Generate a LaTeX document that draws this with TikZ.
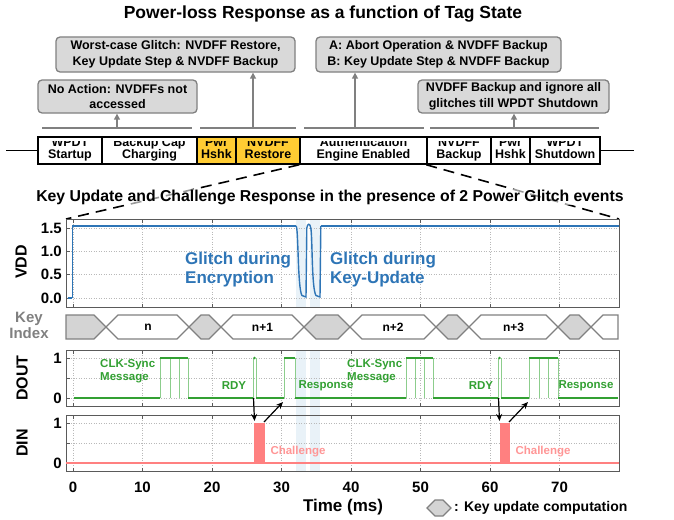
\documentclass[tikz,border=0pt]{standalone}
\usepackage{fontspec}
\setmainfont{Liberation Sans}
\usetikzlibrary{arrows.meta}
\definecolor{boxgray}{RGB}{217,217,217}
\definecolor{edgegray}{RGB}{128,128,128}
\definecolor{gold}{RGB}{255,204,51}
\definecolor{vblue}{RGB}{46,117,182}
\definecolor{bandc}{RGB}{233,242,248}
\definecolor{dgreen}{RGB}{50,160,50}
\definecolor{lgreen}{RGB}{140,205,140}
\definecolor{salmon}{RGB}{255,128,128}
\definecolor{salmontxt}{RGB}{255,150,150}
\definecolor{framec}{RGB}{90,90,90}
\definecolor{gridc}{RGB}{185,185,185}
\definecolor{hexgray}{RGB}{212,212,212}
\newcommand\fsz[2]{\fontsize{#1}{#2}\selectfont}
\newcommand\stext[5]{%
  \begin{scope}\clip (#2,141) rectangle (#3,164);
  \node[stl, anchor=base] at (#1,146.7) {#4};\end{scope}
  \node[stl, anchor=base] at (#1,158) {#5};}
\newcommand\hexseg[3]{\draw[#3] (#1,327) -- ({#1+12},315) -- ({#2-12},315) -- (#2,327) -- ({#2-12},339) -- ({#1+12},339) -- cycle;}
\begin{document}
\begin{tikzpicture}[x=1pt,y=-1pt]
\tikzset{
  note/.style={draw=edgegray, fill=boxgray, rounded corners=4pt, line width=1.3pt, align=center, font=\bfseries\fsz{12.5}{15.5}, inner sep=0pt},
  brk/.style={draw=edgegray, line width=1.5pt},
  arrg/.style={draw=edgegray, line width=1.4pt, -{Triangle[width=6pt,length=6pt]}},
  stbox/.style={draw=black, line width=1.5pt, fill=white, inner sep=0pt, minimum height=27},
  stl/.style={font=\bfseries\fsz{12.5}{12}, inner sep=0pt},
  dashln/.style={draw=black, line width=1.6pt, dash pattern=on 11pt off 7pt},
  gridl/.style={draw=gridc, line width=0.6pt, dash pattern=on 1pt off 1.5pt},
  frm/.style={draw=framec, line width=1pt},
  tick/.style={font=\bfseries\fsz{15}{18}, inner sep=0pt},
  axl/.style={font=\bfseries\fsz{16}{18}, inner sep=0pt, rotate=90},
  gtxt/.style={font=\bfseries\fsz{11.5}{13}, text=dgreen, inner sep=0pt, align=left},
  ctxt/.style={font=\bfseries\fsz{11.5}{13}, text=salmontxt, inner sep=0pt},
  blk/.style={draw=black, line width=1.2pt, -{Stealth[width=6pt,length=7pt]}},
  hexw/.style={draw=edgegray, line width=1.2pt, fill=white},
  hexg/.style={draw=edgegray, line width=1.2pt, fill=hexgray},
}
\useasboundingbox (0,0) rectangle (674,519);

% ---------- title ----------
\node[font=\bfseries\fsz{17.5}{20}] (title) at (323,14) {Power-loss Response as a function of Tag State};

% ---------- notes ----------
\node[note, minimum width=239, minimum height=35] (nA) at (175.5,54.5) {Worst-case Glitch: NVDFF Restore,\\Key Update Step \& NVDFF Backup};
\node[note, minimum width=245, minimum height=35] (nB) at (438.5,54.5) {A: Abort Operation \& NVDFF Backup\\B: Key Update Step \& NVDFF Backup};
\node[note, minimum width=159, minimum height=33] (nC) at (117.5,96.5) {No Action: NVDFFs not\\accessed};
\node[note, minimum width=191, minimum height=33] (nD) at (513.5,96.5) {NVDFF Backup and ignore all\\glitches till WPDT Shutdown};

% brackets
\draw[brk] (42,128) -- (192,128);
\draw[brk] (200,128) -- (296,128);
\draw[brk] (304,128) -- (424,128);
\draw[brk] (430,128) -- (599,128);
\coordinate (bC) at (117,128);
\coordinate (bA) at (253,128);
\coordinate (bB) at (355,128);
\coordinate (bD) at (514,128);
\draw[arrg] (bC) -- (bC |- nC.south);
\draw[arrg] (bA) -- (bA |- nA.south);
\draw[arrg] (bB) -- (bB |- nB.south);
\draw[arrg] (bD) -- (bD |- nD.south);

% ---------- state timeline ----------
\node[stbox, minimum width=64] (s1) at (70,150.5) {};
\node[stbox, minimum width=95] (s2) at (149.5,150.5) {};
\node[stbox, minimum width=39, fill=gold] (s3) at (216.5,150.5) {};
\node[stbox, minimum width=64, fill=gold] (s4) at (268,150.5) {};
\node[stbox, minimum width=127] (s5) at (363.5,150.5) {};
\node[stbox, minimum width=64] (s6) at (459,150.5) {};
\node[stbox, minimum width=39] (s7) at (510.5,150.5) {};
\node[stbox, minimum width=70] (s8) at (565,150.5) {};
\coordinate (tlL) at (6,150.5);
\coordinate (tlR) at (634,150.5);
\draw[line width=1.5pt] (tlL) -- (s1.west);
\draw[line width=1.5pt] (s8.east) -- (tlR);
\stext{70}{38}{102}{WPDT}{Startup}
\stext{149.5}{102}{197}{Backup Cap}{Charging}
\stext{216.5}{197}{236}{Pwr}{Hshk}
\stext{268}{236}{300}{NVDFF}{Restore}
\stext{363.5}{300}{427}{Authentication}{Engine Enabled}
\stext{459}{427}{491}{NVDFF}{Backup}
\stext{510.5}{491}{530}{Pwr}{Hshk}
\stext{565}{530}{600}{WPDT}{Shutdown}

% ---------- plot corners ----------
\coordinate (vNW) at (66,219);
\coordinate (vNE) at (619,219);

% zoom dashed lines
\draw[dashln] (s5.south west) -- (vNW);
\draw[dashln] (s6.south west) -- (vNE);

\node[font=\bfseries\fsz{15.8}{18}, fill=white, fill opacity=0.6, text opacity=1, inner sep=1pt] (sub) at (330,197) {Key Update and Challenge Response in the presence of 2 Power Glitch events};

% ---------- glitch bands ----------
\fill[bandc] (296,219) rectangle (306,307);
\fill[bandc] (310,219) rectangle (320,307);
\fill[bandc] (296,350) rectangle (306,471);
\fill[bandc] (310,350) rectangle (320,471);

% ---------- grids ----------
\foreach \t in {0,...,7} {
  \pgfmathsetmacro\xx{73+69.5*\t}
  \draw[gridl] (\xx,219) -- (\xx,307);
  \draw[gridl] (\xx,350) -- (\xx,406);
  \draw[gridl] (\xx,415) -- (\xx,471);
  \draw[frm] (\xx,219) -- (\xx,222.5);
  \draw[frm] (\xx,307) -- (\xx,303.5);
  \draw[frm] (\xx,350) -- (\xx,353.5);
  \draw[frm] (\xx,406) -- (\xx,402.5);
  \draw[frm] (\xx,415) -- (\xx,418.5);
  \draw[frm] (\xx,471) -- (\xx,467.5);
  \pgfmathtruncatemacro\lab{10*\t}
  \node[tick] at (\xx,487) {\lab};
}
\foreach \y in {228,251.3,274.7,298,358,378,398,423,443,463} {
  \draw[gridl] (66,\y) -- (619,\y);
  \draw[frm] (66,\y) -- (69.5,\y);
}
\draw[frm] (66,219) rectangle (619,307);
\draw[frm] (66,350) rectangle (619,406);
\draw[frm] (66,415) rectangle (619,471);

% ---------- VDD ----------
\node[tick, anchor=east] at (62,228) {1.5};
\node[tick, anchor=east] at (62,251.3) {1.0};
\node[tick, anchor=east] at (62,274.7) {0.5};
\node[tick, anchor=east] at (62,298) {0.0};
\node[axl] (vddl) at (21,262) {VDD};
\draw[vblue, line width=2.6pt] (67.5,298) -- (72,298);
\draw[vblue, line width=0.9pt] (72,298) -- (72,226);
\draw[vblue, line width=2.8pt] (72,226) -- (296,226);
\draw[vblue, line width=1.4pt] (296,226) .. controls (298.5,226) and (297.5,289) .. (302,295.5) -- (306,297) -- (306.8,228)
  .. controls (307.5,223) and (310,223) .. (310.8,228)
  .. controls (312.5,236) and (311.5,289) .. (316,295.5) -- (320,297) -- (320.8,226);
\draw[vblue, line width=2.8pt] (320.8,226) -- (619,226);
\node[font=\bfseries\fsz{17}{19}, text=vblue, align=left, inner sep=0pt, anchor=west] (g1) at (185,270) {Glitch during\\Encryption};
\node[font=\bfseries\fsz{17}{19}, text=vblue, align=left, inner sep=0pt, anchor=west] (g2) at (330,270) {Glitch during\\Key-Update};

% ---------- Key index ----------
\node[font=\bfseries\fsz{15}{15.5}, text=edgegray, align=center, inner sep=0pt] (kil) at (29,325.5) {Key\\Index};
\draw[hexg] (66,315) -- (94,315) -- (106,327) -- (94,339) -- (66,339) -- cycle;
\hexseg{106}{189}{hexw}
\hexseg{189}{221}{hexg}
\hexseg{221}{304}{hexw}
\hexseg{304}{350}{hexg}
\hexseg{350}{436}{hexw}
\hexseg{436}{469}{hexg}
\hexseg{469}{558}{hexw}
\hexseg{558}{591}{hexg}
\draw[hexw] (591,327) -- (603,315) -- (618,315) -- (618,339) -- (603,339) -- cycle;
\node[font=\bfseries\fsz{12}{14}, inner sep=0pt] at (148,327) {n};
\node[font=\bfseries\fsz{12}{14}, inner sep=0pt] at (262.5,327) {n+1};
\node[font=\bfseries\fsz{12}{14}, inner sep=0pt] at (393,327) {n+2};
\node[font=\bfseries\fsz{12}{14}, inner sep=0pt] at (513.5,327) {n+3};

% ---------- DOUT ----------
\node[tick, anchor=east] at (62,358) {1};
\node[tick, anchor=east] at (62,398) {0};
\node[axl] (doutl) at (22,378) {DOUT};
\foreach \x in {160,170,179,188,253,256,284,295,406,415,424,433,498,501,529,539,548,558}
  \draw[lgreen, line width=1pt] (\x,358) -- (\x,398);
\foreach \a/\b in {74/160,188/253,256/284,295/406,433/498,501/529,558/618}
  \draw[dgreen, line width=2pt] (\a,398) -- (\b,398);
\foreach \a/\b in {160/188,284/295,406/433,529/558}
  \draw[dgreen, line width=2.5pt] (\a,358) -- (\b,358);
\fill[dgreen] (254.5,358) circle (1.4pt);
\fill[dgreen] (499.5,358) circle (1.4pt);
\node[gtxt, anchor=west] (cs1) at (100,371.5) {CLK-Sync\\Message};
\node[gtxt, anchor=west] (cs2) at (347,371.5) {CLK-Sync\\Message};
\node[gtxt] (rdy1) at (234,386) {RDY};
\node[gtxt] (rdy2) at (481,386) {RDY};
\node[gtxt] (rsp1) at (326,386) {Response};
\node[gtxt] (rsp2) at (586,386) {Response};

% ---------- DIN ----------
\node[tick, anchor=east] at (62,423) {1};
\node[tick, anchor=east] at (62,463) {0};
\node[axl] (dinl) at (22,443) {DIN};
\draw[salmon, line width=2pt] (66,463) -- (619,463);
\fill[salmon] (254,423) rectangle (265,463);
\fill[salmon] (500,423) rectangle (510,463);
\node[ctxt] (ch1) at (298,452) {Challenge};
\node[ctxt] (ch2) at (543,452) {Challenge};

% arrows
\coordinate (r1) at (253.5,398);
\coordinate (p1) at (254.5,421);
\coordinate (p1b) at (264,422);
\coordinate (e1) at (283,402);
\coordinate (r2) at (498.5,398);
\coordinate (p2) at (499.5,421);
\coordinate (p2b) at (509,422);
\coordinate (e2) at (528,402);
\draw[blk] (r1) -- (p1);
\draw[blk] (p1b) -- (e1);
\draw[blk] (r2) -- (p2);
\draw[blk] (p2b) -- (e2);

% ---------- axis title & legend ----------
\node[font=\bfseries\fsz{17}{20}, inner sep=0pt] (xl) at (343,507) {Time (ms)};
\draw[hexg] (427,508) -- (435,500) -- (443,500) -- (451,508) -- (443,516) -- (435,516) -- cycle;
\node[font=\bfseries\fsz{14}{16}, inner sep=0pt, anchor=west] (leg) at (454,508) {: Key update computation};
\end{tikzpicture}
\end{document}
